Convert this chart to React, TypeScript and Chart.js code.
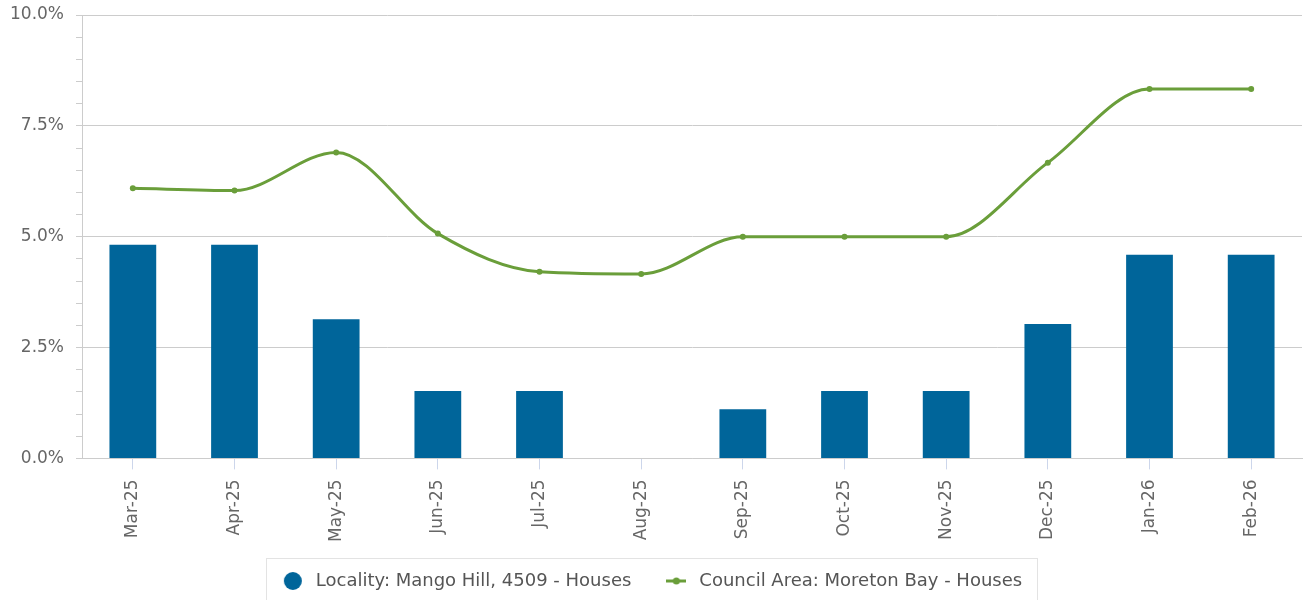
import React, { useEffect, useRef } from "react";
import { Chart, registerables } from "chart.js";

Chart.register(...registerables);

const categories = ["Mar-25", "Apr-25", "May-25", "Jun-25", "Jul-25", "Aug-25", "Sep-25", "Oct-25", "Nov-25", "Dec-25", "Jan-26", "Feb-26"];
const localityValues = [4.82, 4.82, 3.14, 1.52, 1.52, 0, 1.11, 1.52, 1.52, 3.03, 4.59, 4.59];
const councilValues = [6.09, 6.04, 6.9, 5.07, 4.21, 4.16, 5.0, 5.0, 5.0, 6.67, 8.33, 8.33];
const yMajorTicks = [0, 2.5, 5, 7.5, 10];

const BAR_COLOR = "#00659a";
const LINE_COLOR = "#6a9e3a";
const TEXT_COLOR = "#666666";
const FONT = "'DejaVu Sans', sans-serif";

function makeLineMarker(): HTMLCanvasElement {
  const c = document.createElement("canvas");
  c.width = 20;
  c.height = 10;
  const g = c.getContext("2d")!;
  g.strokeStyle = LINE_COLOR;
  g.lineWidth = 3;
  g.beginPath();
  g.moveTo(0, 5);
  g.lineTo(20, 5);
  g.stroke();
  g.fillStyle = LINE_COLOR;
  g.beginPath();
  g.arc(10, 5, 3.5, 0, Math.PI * 2);
  g.fill();
  return c;
}

function makeCircleMarker(): HTMLCanvasElement {
  const c = document.createElement("canvas");
  c.width = 20;
  c.height = 20;
  const g = c.getContext("2d")!;
  g.fillStyle = BAR_COLOR;
  g.beginPath();
  g.arc(10, 10, 9, 0, Math.PI * 2);
  g.fill();
  return c;
}

const legendBorder = {
  id: "legendBorder",
  afterDraw(chart: any) {
    const lg = chart.legend;
    if (!lg || !lg.legendHitBoxes || !lg.legendHitBoxes.length) return;
    const boxes = lg.legendHitBoxes;
    let l = Infinity, r = -Infinity, t = Infinity, b = -Infinity;
    for (const h of boxes) {
      l = Math.min(l, h.left);
      r = Math.max(r, h.left + h.width);
      t = Math.min(t, h.top);
      b = Math.max(b, h.top + h.height);
    }
    const ctx = chart.ctx;
    ctx.save();
    ctx.strokeStyle = "#e3e3e3";
    ctx.lineWidth = 1;
    ctx.strokeRect(Math.round(l - 13) + 0.5, Math.round(t - 14) + 0.5, Math.round(r - l + 28), Math.round(b - t + 28));
    ctx.restore();
  },
};

export default function App() {
  const ref = useRef<HTMLCanvasElement | null>(null);

  useEffect(() => {
    document.body.style.margin = "0";
    const circle = makeCircleMarker();
    const lineMk = makeLineMarker();
    const isMajor = (v: number) => yMajorTicks.some((m) => Math.abs(m - v) < 1e-6);
    const chart = new Chart(ref.current!, {
      type: "bar",
      data: {
        labels: categories,
        datasets: [
          {
            type: "line",
            label: "Council Area: Moreton Bay - Houses",
            data: councilValues,
            borderColor: LINE_COLOR,
            backgroundColor: LINE_COLOR,
            borderWidth: 3,
            pointRadius: 3,
            pointBackgroundColor: LINE_COLOR,
            pointBorderWidth: 0,
            cubicInterpolationMode: "monotone",
            order: 0,
          } as any,
          {
            type: "bar",
            label: "Locality: Mango Hill, 4509 - Houses",
            data: localityValues,
            backgroundColor: BAR_COLOR,
            barPercentage: 0.46,
            categoryPercentage: 1,
            order: 1,
          } as any,
        ],
      },
      plugins: [legendBorder],
      options: {
        animation: false,
        responsive: false,
        layout: { padding: { top: 0, right: 3, left: -2, bottom: 0 } },
        plugins: {
          tooltip: { enabled: false },
          legend: {
            position: "bottom",
            labels: {
              usePointStyle: true,
              pointStyleWidth: 28,
              color: "#555555",
              font: { family: FONT, size: 18 },
              padding: 31,
              generateLabels: () => [
                { text: "Locality: Mango Hill, 4509 - Houses", pointStyle: circle, fillStyle: BAR_COLOR, strokeStyle: BAR_COLOR, lineWidth: 0, datasetIndex: 1, hidden: false, fontColor: "#555555" },
                { text: "Council Area: Moreton Bay - Houses", pointStyle: lineMk, fillStyle: LINE_COLOR, strokeStyle: LINE_COLOR, lineWidth: 0, datasetIndex: 0, hidden: false, fontColor: "#555555" },
              ],
            },
          },
        },
        scales: {
          x: {
            afterFit: (scale: any) => {
              scale.height -= 11;
            },
            grid: { display: true, drawOnChartArea: false, offset: false, tickLength: 11, tickColor: "#ccd6eb" },
            border: { display: true, color: "#cccccc" },
            ticks: { color: TEXT_COLOR, font: { family: FONT, size: 17 }, maxRotation: 90, minRotation: 90, padding: 10, autoSkip: false },
          },
          y: {
            min: 0,
            max: 10,
            afterFit: (scale: any) => {
              scale.paddingTop = 15;
            },
            grid: {
              color: (c: any) => (isMajor(c.tick?.value) ? "#cccccc" : "rgba(0,0,0,0)"),
              tickColor: "#cccccc",
              tickLength: 6,
            },
            border: { display: true, color: "#cccccc" },
            ticks: {
              stepSize: 0.5,
              autoSkip: false,
              color: TEXT_COLOR,
              font: { family: FONT, size: 17 },
              padding: 12,
              callback: (v: any) => (isMajor(Number(v)) ? Number(v).toFixed(1) + "%" : ""),
            },
          },
        },
      },
    });
    return () => chart.destroy();
  }, []);

  return (
    <div style={{ width: 1306, height: 600, overflow: "hidden" }}>
      <canvas ref={ref} width={1306} height={600} style={{ display: "block" }} />
    </div>
  );
}
